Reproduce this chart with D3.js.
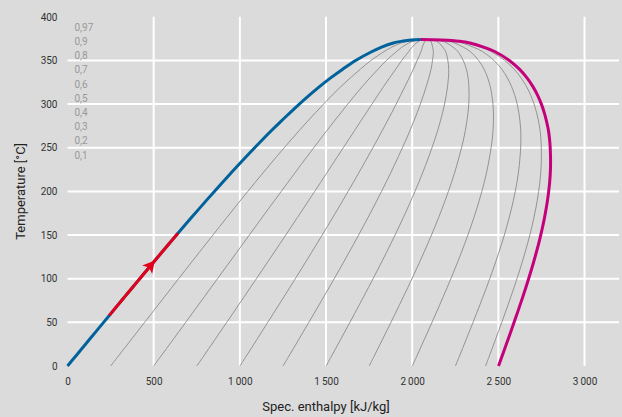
<!DOCTYPE html>
<html>
<head>
<meta charset="utf-8">
<script src="https://cdn.jsdelivr.net/npm/d3@7"></script>
<style>
  body { margin: 0; background: #dbdbdb; }
  svg { display: block; font-family: Roboto, "Noto Sans", sans-serif; }
</style>
</head>
<body>
<div id="chart"></div>
<script>
// saturation table of water: temperature [°C], liquid / vapour enthalpy [kJ/kg]
var satT  = [0.01, 10, 20, 30, 40, 50, 60, 70, 80, 90, 100, 110, 120, 130, 140, 150, 160, 170, 180, 190,
             200, 210, 220, 230, 240, 250, 260, 270, 280, 290, 300, 310, 320, 330, 340, 350, 360, 365, 370, 372, 373.5, 373.95];
var satHf = [0, 42.0, 83.9, 125.7, 167.5, 209.3, 251.2, 293.0, 335.0, 377.0, 419.2, 461.4, 503.8, 546.4, 589.2, 632.2, 675.5, 719.1, 763.1, 807.4,
             852.3, 897.6, 943.6, 990.1, 1037.6, 1085.8, 1134.9, 1185.1, 1236.9, 1290.7, 1345.0, 1402.0, 1462.2, 1526.8, 1596.8, 1671.9, 1764.2, 1819, 1890.7, 1940, 1995, 2050];
var satHg = [2500.9, 2519.2, 2537.4, 2555.6, 2573.5, 2591.3, 2608.8, 2626.1, 2643.0, 2659.6, 2675.6, 2691.1, 2706.0, 2720.1, 2733.5, 2745.9, 2757.4, 2767.9, 2777.2, 2785.3,
             2792.0, 2797.5, 2801.1, 2802.9, 2802.6, 2800.9, 2797.0, 2790.4, 2779.9, 2766.7, 2749.6, 2727.9, 2700.6, 2666.0, 2622.0, 2563.6, 2481.5, 2418, 2334.5, 2275, 2170, 2050];

// vapour quality lines
var qualities = [0.1, 0.2, 0.3, 0.4, 0.5, 0.6, 0.7, 0.8, 0.9, 0.97];
var qualityLabels = ["0,97", "0,9", "0,8", "0,7", "0,6", "0,5", "0,4", "0,3", "0,2", "0,1"];

// heated liquid section (temperature range) and arrow position
var heatFrom = 58, heatTo = 152, arrowAt = 119;

var xTicks = [0, 500, 1000, 1500, 2000, 2500, 3000];
var yTicks = [0, 50, 100, 150, 200, 250, 300, 350, 400];
var xGrid = [500, 1000, 1500, 2000, 2500, 3000];
var yGrid = [50, 100, 150, 200, 250, 300, 350];

var width = 622, height = 417;
var plotLeft = 67.5, plotRight = 619, plotTop = 16.8, plotBottom = 366;

var svg = d3.select("#chart").append("svg")
    .attr("width", width)
    .attr("height", height);

svg.append("rect").attr("width", width).attr("height", height).attr("fill", "#dbdbdb");

var x = d3.scaleLinear().domain([0, 3200]).range([plotLeft, plotRight]);
var y = d3.scaleLinear().domain([0, 400]).range([plotBottom, plotTop]);

var fmt = d3.formatLocale({ decimal: ",", thousands: "\u2009", grouping: [3], currency: ["", ""] }).format(",d");

// grid
svg.append("g").selectAll("line").data(yGrid).enter().append("line")
    .attr("x1", x(0)).attr("x2", x(3200))
    .attr("y1", d => y(d)).attr("y2", d => y(d))
    .attr("stroke", "#fff").attr("stroke-width", 2);
svg.append("g").selectAll("line").data(xGrid).enter().append("line")
    .attr("x1", d => x(d)).attr("x2", d => x(d))
    .attr("y1", y(0)).attr("y2", y(400))
    .attr("stroke", "#fff").attr("stroke-width", 2);

// axes (labels only)
var xAxis = svg.append("g")
    .attr("transform", `translate(0, ${y(0) + 10})`)
    .call(d3.axisBottom(x).tickValues(xTicks).tickFormat(d => fmt(d)).tickSize(0).tickPadding(0));
var yAxis = svg.append("g")
    .attr("transform", `translate(${plotLeft - 10}, 0)`)
    .call(d3.axisLeft(y).tickValues(yTicks).tickSize(0).tickPadding(0));
[xAxis, yAxis].forEach(a => {
    a.select(".domain").remove();
    a.selectAll("text")
        .attr("fill", "#333")
        .attr("font-size", 10)
        .attr("font-family", "Roboto, 'Noto Sans', sans-serif");
});
xAxis.selectAll("text").attr("dy", "0.35em").attr("y", 5);

svg.append("text")
    .attr("x", (x(0) + x(3000)) / 2)
    .attr("y", 411)
    .attr("text-anchor", "middle")
    .attr("font-size", 13)
    .attr("fill", "#222")
    .text("Spec. enthalpy [kJ/kg]");
svg.append("text")
    .attr("transform", `translate(25, ${(y(0) + y(400)) / 2}) rotate(-90)`)
    .attr("text-anchor", "middle")
    .attr("font-size", 13)
    .attr("fill", "#222")
    .text("Temperature [°C]");

var line = d3.line()
    .x(d => x(d[0]))
    .y(d => y(d[1]))
    .curve(d3.curveCatmullRom.alpha(0.5));

// quality lines
var qualityLines = qualities.map(q => satT.map((t, i) => [satHf[i] + q * (satHg[i] - satHf[i]), t]));
svg.append("g").selectAll("path").data(qualityLines).enter().append("path")
    .attr("d", line)
    .attr("fill", "none")
    .attr("stroke", "#8a8a8a")
    .attr("stroke-width", 0.9);

// saturated liquid / vapour
var liquid = satT.map((t, i) => [satHf[i], t]);
var vapour = satT.map((t, i) => [satHg[i], t]);
svg.append("path").attr("d", line(liquid))
    .attr("fill", "none").attr("stroke", "#00629b").attr("stroke-width", 3);
svg.append("path").attr("d", line(vapour))
    .attr("fill", "none").attr("stroke", "#c4007a").attr("stroke-width", 3);

// heated section
var hOfT = d3.scaleLinear().domain(satT).range(satHf);
var heated = [[hOfT(heatFrom), heatFrom]]
    .concat(liquid.filter(d => d[1] > heatFrom && d[1] < heatTo))
    .concat([[hOfT(heatTo), heatTo]]);
svg.append("path").attr("d", line(heated))
    .attr("fill", "none").attr("stroke", "#e2001a").attr("stroke-width", 3);

var ax = x(hOfT(arrowAt)), ay = y(arrowAt);
var dx = x(hOfT(arrowAt + 10)) - ax;
var dy = y(arrowAt + 10) - ay;
var angle = Math.atan2(dy, dx) * 180 / Math.PI;
svg.append("path")
    .attr("transform", `translate(${ax}, ${ay}) rotate(${angle})`)
    .attr("d", "M2,0 L-10,-6.5 L-7,0 L-10,6.5 Z")
    .attr("fill", "#e2001a");

// quality legend
svg.append("g").selectAll("text").data(qualityLabels).enter().append("text")
    .attr("x", 74.5)
    .attr("y", (d, i) => 27.3 + i * 14.2)
    .attr("dy", "0.35em")
    .attr("font-size", 10)
    .attr("fill", "#999")
    .text(d => d);
</script>
</body>
</html>
